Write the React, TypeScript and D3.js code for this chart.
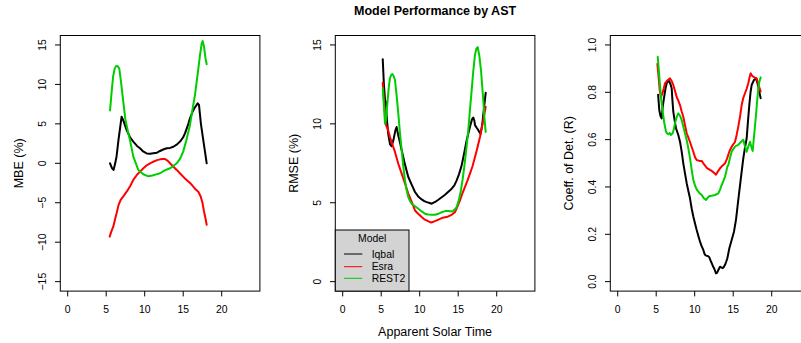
import React from "react";
import * as d3 from "d3";

type Pt = [number, number];

// ---------- data ----------
const xTicks = [0, 5, 10, 15, 20];
const mbeTicks = [-15, -10, -5, 0, 5, 10, 15];
const rmseTicks = [0, 5, 10, 15];
const rTicks = [0, 0.2, 0.4, 0.6, 0.8, 1.0];

const modelNames = ["Iqbal", "Esra", "REST2"];
const modelColors = ["#000000", "#FF0000", "#00CD00"];

const mbeIqbal: Pt[] = [
  [5.5, 0.0], [5.75, -0.6], [5.95, -0.85], [6.15, -0.1], [6.35, 0.9], [6.6, 3.0], [7.0, 5.9], [7.2, 5.5],
  [7.66, 4.2], [8.1, 3.3], [8.52, 2.75], [9.0, 2.2], [9.39, 1.9], [9.8, 1.5], [10.26, 1.25], [10.7, 1.2],
  [11.12, 1.27], [11.6, 1.35], [11.99, 1.56], [12.4, 1.75], [12.86, 1.9], [13.3, 1.95], [13.72, 2.1],
  [14.2, 2.4], [14.59, 2.75], [15.0, 3.3], [15.23, 3.8], [15.6, 4.8], [15.88, 5.7], [16.2, 6.5],
  [16.45, 6.97], [16.88, 7.6], [17.05, 7.4], [17.3, 5.0], [17.6, 3.0], [18.05, 0.0],
];
const mbeEsra: Pt[] = [
  [5.45, -9.3], [5.65, -8.7], [5.93, -8.0], [6.15, -7.1], [6.36, -6.3], [6.6, -5.3], [6.88, -4.64],
  [7.22, -4.2], [7.66, -3.6], [8.1, -2.9], [8.52, -2.1], [9.0, -1.45], [9.39, -1.05], [9.8, -0.65],
  [10.26, -0.25], [10.7, 0.0], [11.12, 0.2], [11.6, 0.4], [11.99, 0.5], [12.4, 0.55], [12.64, 0.55],
  [13.0, 0.3], [13.29, 0.0], [13.7, -0.4], [14.16, -0.84], [14.6, -1.3], [15.0, -1.69], [15.3, -2.0],
  [15.66, -2.3], [16.0, -2.6], [16.31, -2.96], [16.6, -3.3], [16.96, -3.6], [17.27, -4.2], [17.5, -5.0],
  [17.7, -6.1], [17.9, -7.0], [18.05, -7.8],
];
const mbeRest2: Pt[] = [
  [5.5, 6.7], [5.7, 9.0], [5.9, 11.0], [6.1, 12.0], [6.3, 12.35], [6.5, 12.3], [6.7, 12.0], [6.9, 10.5],
  [7.22, 7.8], [7.5, 5.5], [7.87, 3.8], [8.09, 2.96], [8.52, 0.84], [9.17, -0.84], [9.82, -1.39],
  [10.47, -1.65], [11.0, -1.55], [11.5, -1.4], [11.99, -1.26], [12.6, -0.9], [13.29, -0.63], [13.7, -0.35],
  [14.16, 0.0], [14.6, 0.6], [15.0, 1.48], [15.4, 2.9], [15.88, 4.86], [16.2, 6.8], [16.53, 8.66],
  [16.9, 11.5], [17.18, 13.7], [17.4, 15.2], [17.53, 15.5], [17.7, 14.8], [17.9, 13.3], [18.05, 12.55],
];

const rmseIqbal: Pt[] = [
  [5.2, 14.1], [5.35, 12.5], [5.5, 11.5], [5.6, 11.4], [5.75, 10.2], [5.93, 9.3], [6.15, 8.7], [6.36, 8.58],
  [6.6, 9.0], [6.85, 9.6], [7.0, 9.8], [7.2, 9.3], [7.45, 8.8], [7.66, 8.33], [8.1, 7.4], [8.52, 6.63],
  [9.0, 6.1], [9.39, 5.68], [9.8, 5.4], [10.26, 5.21], [10.6, 5.1], [10.91, 5.04], [11.2, 5.0], [11.56, 4.94],
  [12.0, 5.05], [12.42, 5.19], [12.86, 5.35], [13.29, 5.51], [13.72, 5.7], [14.16, 5.89], [14.5, 6.1],
  [14.8, 6.42], [15.1, 6.8], [15.45, 7.37], [15.8, 8.2], [16.1, 8.96], [16.53, 9.81], [16.8, 10.3],
  [16.96, 10.4], [17.1, 10.2], [17.18, 9.92], [17.4, 9.75], [17.61, 9.6], [17.9, 9.35], [18.13, 10.0],
  [18.35, 11.0], [18.57, 11.97],
];
const rmseEsra: Pt[] = [
  [5.2, 12.6], [5.4, 11.2], [5.6, 9.95], [5.9, 9.6], [6.14, 9.17], [6.45, 8.7], [6.79, 8.22], [7.2, 7.5],
  [7.66, 6.85], [8.1, 6.2], [8.52, 5.58], [9.0, 5.0], [9.39, 4.51], [9.8, 4.3], [10.26, 4.09], [10.6, 3.95],
  [10.91, 3.88], [11.2, 3.8], [11.47, 3.75], [11.8, 3.8], [12.21, 3.88], [12.5, 3.95], [12.86, 4.03],
  [13.3, 4.08], [13.72, 4.13], [14.2, 4.25], [14.59, 4.41], [14.9, 4.75], [15.23, 5.15], [15.55, 5.6],
  [15.88, 6.0], [16.2, 6.4], [16.53, 6.85], [16.85, 7.3], [17.18, 7.9], [17.5, 8.5], [17.83, 9.17],
  [18.05, 9.7], [18.26, 10.24], [18.57, 11.08],
];
const rmseRest2: Pt[] = [
  [5.2, 12.25], [5.35, 11.2], [5.49, 10.03], [5.6, 10.2], [5.84, 11.5], [6.0, 12.4], [6.14, 12.89],
  [6.3, 13.1], [6.44, 13.16], [6.6, 13.05], [6.79, 12.78], [7.0, 11.8], [7.22, 10.66], [7.44, 9.4],
  [7.66, 8.33], [7.87, 7.3], [8.09, 6.42], [8.3, 5.8], [8.52, 5.36], [8.75, 5.1], [8.96, 4.94], [9.4, 4.78],
  [9.82, 4.62], [10.26, 4.45], [10.69, 4.3], [11.1, 4.25], [11.56, 4.24], [12.0, 4.24], [12.42, 4.3],
  [12.86, 4.4], [13.29, 4.47], [13.7, 4.48], [14.24, 4.45], [14.5, 4.55], [14.8, 4.72], [15.1, 5.2],
  [15.36, 5.79], [15.58, 6.5], [15.79, 7.27], [16.05, 8.4], [16.31, 9.6], [16.53, 10.9], [16.75, 12.14],
  [16.95, 13.3], [17.18, 14.37], [17.35, 14.75], [17.53, 14.86], [17.75, 14.3], [17.96, 13.41], [18.1, 12.5],
  [18.26, 11.5], [18.4, 10.4], [18.57, 9.49],
];

const rIqbal: Pt[] = [
  [5.25, 0.79], [5.4, 0.725], [5.55, 0.7], [5.71, 0.69], [5.85, 0.74], [6.01, 0.775], [6.2, 0.815],
  [6.36, 0.838], [6.5, 0.845], [6.66, 0.848], [6.85, 0.835], [7.01, 0.817], [7.1, 0.77], [7.22, 0.718],
  [7.4, 0.68], [7.57, 0.648], [7.87, 0.62], [8.1, 0.59], [8.31, 0.549], [8.52, 0.5], [8.75, 0.455],
  [8.96, 0.416], [9.2, 0.38], [9.39, 0.352], [9.6, 0.31], [9.82, 0.275], [10.05, 0.245], [10.26, 0.218],
  [10.5, 0.19], [10.69, 0.169], [10.9, 0.15], [11.12, 0.134], [11.3, 0.115], [11.47, 0.11], [11.7, 0.108],
  [11.9, 0.103], [12.05, 0.09], [12.21, 0.078], [12.37, 0.065], [12.51, 0.057], [12.65, 0.045],
  [12.77, 0.035], [12.9, 0.037], [13.07, 0.049], [13.29, 0.063], [13.45, 0.06], [13.64, 0.057],
  [13.8, 0.063], [13.94, 0.071], [14.1, 0.085], [14.24, 0.099], [14.5, 0.141], [14.8, 0.176], [15.1, 0.211],
  [15.36, 0.261], [15.5, 0.3], [15.66, 0.345], [15.97, 0.43], [16.23, 0.5], [16.31, 0.521], [16.5, 0.56],
  [16.75, 0.606], [16.9, 0.67], [17.09, 0.746], [17.25, 0.8], [17.4, 0.831], [17.7, 0.852], [17.96, 0.859],
  [18.1, 0.845], [18.26, 0.824], [18.4, 0.8], [18.57, 0.775],
];
const rEsra: Pt[] = [
  [5.15, 0.92], [5.3, 0.87], [5.45, 0.81], [5.62, 0.78], [5.9, 0.805], [6.14, 0.838], [6.45, 0.85],
  [6.79, 0.859], [7.0, 0.848], [7.22, 0.831], [7.45, 0.805], [7.66, 0.78], [7.87, 0.765], [8.09, 0.746],
  [8.3, 0.72], [8.52, 0.697], [8.75, 0.66], [8.96, 0.627], [9.2, 0.607], [9.39, 0.59], [9.6, 0.57],
  [9.82, 0.549], [10.05, 0.525], [10.26, 0.514], [10.6, 0.51], [10.91, 0.51], [11.12, 0.5], [11.35, 0.49],
  [11.6, 0.48], [11.99, 0.472], [12.2, 0.468], [12.5, 0.46], [12.77, 0.452], [13.0, 0.465], [13.29, 0.479],
  [13.6, 0.49], [13.94, 0.5], [14.2, 0.52], [14.5, 0.55], [14.8, 0.57], [15.0, 0.58], [15.23, 0.59],
  [15.45, 0.62], [15.66, 0.655], [15.9, 0.7], [16.1, 0.746], [16.3, 0.775], [16.53, 0.796], [16.75, 0.815],
  [16.96, 0.838], [17.1, 0.86], [17.27, 0.88], [17.45, 0.87], [17.61, 0.866], [17.8, 0.862], [18.05, 0.859],
  [18.3, 0.83], [18.57, 0.803],
];
const rRest2: Pt[] = [
  [5.2, 0.95], [5.35, 0.89], [5.49, 0.83], [5.65, 0.77], [5.84, 0.72], [6.05, 0.67], [6.27, 0.634],
  [6.45, 0.625], [6.58, 0.623], [6.75, 0.628], [6.9, 0.62], [7.14, 0.627], [7.3, 0.645], [7.44, 0.669],
  [7.65, 0.695], [7.87, 0.711], [8.1, 0.7], [8.31, 0.683], [8.52, 0.655], [8.74, 0.627], [8.95, 0.6],
  [9.17, 0.564], [9.4, 0.52], [9.61, 0.472], [9.82, 0.43], [10.05, 0.405], [10.26, 0.39], [10.6, 0.375],
  [10.91, 0.366], [11.2, 0.352], [11.47, 0.345], [11.7, 0.355], [11.9, 0.362], [12.2, 0.363], [12.64, 0.366],
  [13.07, 0.373], [13.3, 0.39], [13.5, 0.408], [13.72, 0.425], [13.94, 0.444], [14.1, 0.465], [14.24, 0.486],
  [14.37, 0.493], [14.6, 0.525], [14.8, 0.549], [15.0, 0.56], [15.23, 0.57], [15.45, 0.575], [15.66, 0.578],
  [16.0, 0.59], [16.31, 0.599], [16.5, 0.575], [16.75, 0.549], [16.95, 0.57], [17.18, 0.591], [17.35, 0.57],
  [17.53, 0.552], [17.75, 0.63], [17.96, 0.704], [18.1, 0.76], [18.26, 0.817], [18.4, 0.845], [18.57, 0.863],
];

// ---------- layout ----------
const W = 801;
const H = 343;
const FONT = "'Liberation Sans', Arial, Helvetica, sans-serif";
const PANEL_STEP = 275;
const PLOT_L = 60.3;
const PLOT_R = 259.9;
const PLOT_T = 35.5;
const PLOT_B = 291.1;
const TICK = 5.3;

interface PanelSpec {
  label: string;
  ylim: [number, number];
  yTicks: number[];
  fmt: (v: number) => string;
  series: Pt[][];
}

const minusFmt = (v: number) => (v < 0 ? "\u2212" + Math.abs(v) : String(v));

const panels: PanelSpec[] = [
  { label: "MBE (%)", ylim: [-15, 15], yTicks: mbeTicks, fmt: minusFmt, series: [mbeIqbal, mbeEsra, mbeRest2] },
  { label: "RMSE (%)", ylim: [0, 15], yTicks: rmseTicks, fmt: minusFmt, series: [rmseIqbal, rmseEsra, rmseRest2] },
  { label: "Coeff. of Det. (R)", ylim: [0, 1], yTicks: rTicks, fmt: d3.format(".1f"), series: [rIqbal, rEsra, rRest2] },
];

function Panel({ spec, index }: { spec: PanelSpec; index: number }) {
  const off = index * PANEL_STEP;
  const xs = d3.scaleLinear().domain([-0.96, 24.96]).range([PLOT_L + off, PLOT_R + off]);
  const ext = (spec.ylim[1] - spec.ylim[0]) * 0.04;
  const ys = d3.scaleLinear().domain([spec.ylim[0] - ext, spec.ylim[1] + ext]).range([PLOT_B, PLOT_T]);
  const line = d3.line<Pt>().x((d) => xs(d[0])).y((d) => ys(d[1]));
  const left = xs.range()[0];
  const right = xs.range()[1];
  return (
    <g>
      {spec.series.map((s, i) => (
        <path key={i} d={line(s) || ""} fill="none" stroke={modelColors[i]} strokeWidth={2} strokeLinejoin="round" strokeLinecap="round" />
      ))}
      <rect x={left} y={PLOT_T} width={right - left} height={PLOT_B - PLOT_T} fill="none" stroke="#000" strokeWidth={1} />
      {xTicks.map((t) => (
        <g key={"x" + t}>
          <line x1={xs(t)} x2={xs(t)} y1={PLOT_B} y2={PLOT_B + TICK} stroke="#000" strokeWidth={1} />
          <text x={xs(t)} y={313.3} textAnchor="middle" fontSize={10.4} fontFamily={FONT} fill="#000">{t}</text>
        </g>
      ))}
      {spec.yTicks.map((t) => (
        <g key={"y" + t}>
          <line x1={left - TICK} x2={left} y1={ys(t)} y2={ys(t)} stroke="#000" strokeWidth={1} />
          <text transform={`translate(${46.3 + off},${ys(t)}) rotate(-90)`} textAnchor="middle" fontSize={10.4} fontFamily={FONT} fill="#000">{spec.fmt(t)}</text>
        </g>
      ))}
      <text transform={`translate(${22.7 + off},${(PLOT_T + PLOT_B) / 2}) rotate(-90)`} textAnchor="middle" fontSize={12.5} fontFamily={FONT} fill="#000">{spec.label}</text>
    </g>
  );
}

function Legend() {
  const x0 = PLOT_L + PANEL_STEP;
  const x1 = 409;
  const y0 = 230;
  const rowsY = [254, 266.7, 278.3];
  return (
    <g>
      <rect x={x0} y={y0} width={x1 - x0} height={PLOT_B - y0} fill="#D3D3D3" stroke="#000" strokeWidth={1} />
      <text x={(x0 + x1) / 2} y={242} textAnchor="middle" fontSize={10.4} fontFamily={FONT} fill="#000">Model</text>
      {modelNames.map((n, i) => (
        <g key={n}>
          <line x1={344} x2={362.3} y1={rowsY[i]} y2={rowsY[i]} stroke={modelColors[i]} strokeWidth={1} />
          <text x={371.7} y={rowsY[i] + 3.7} fontSize={10.4} fontFamily={FONT} fill="#000">{n}</text>
        </g>
      ))}
    </g>
  );
}

export default function App() {
  return (
    <svg width={W} height={H} style={{ position: "absolute", left: 0, top: 0, background: "#fff" }}>
      <rect x={0} y={0} width={W} height={H} fill="#fff" />
      {panels.map((p, i) => (
        <Panel key={i} spec={p} index={i} />
      ))}
      <Legend />
      <text x={PLOT_L + PANEL_STEP + (PLOT_R - PLOT_L) / 2} y={15.3} textAnchor="middle" fontSize={12.5} fontWeight="bold" fontFamily={FONT} fill="#000">Model Performance by AST</text>
      <text x={PLOT_L + PANEL_STEP + (PLOT_R - PLOT_L) / 2} y={336} textAnchor="middle" fontSize={12.5} fontFamily={FONT} fill="#000">Apparent Solar Time</text>
    </svg>
  );
}
